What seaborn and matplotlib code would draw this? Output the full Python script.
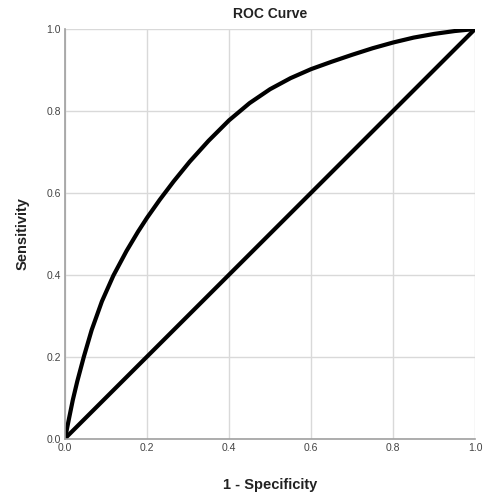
import numpy as np
import pandas as pd
import seaborn as sns
import matplotlib.pyplot as plt

# ROC curve points
fpr = [0.0, 0.01, 0.019, 0.03, 0.046, 0.065, 0.09, 0.118, 0.15, 0.178, 0.2, 0.231, 0.265,
       0.304, 0.35, 0.4, 0.45, 0.5, 0.55, 0.6, 0.65, 0.7, 0.75, 0.8, 0.85, 0.9, 0.95, 1.0]
tpr = [0.0, 0.05, 0.094, 0.14, 0.2, 0.265, 0.335, 0.398, 0.458, 0.505, 0.539, 0.583, 0.628,
       0.676, 0.727, 0.777, 0.819, 0.853, 0.88, 0.902, 0.92, 0.937, 0.953, 0.967, 0.979, 0.988, 0.995, 1.0]
ref_line = [0.0, 1.0]
ticks = [0.0, 0.2, 0.4, 0.6, 0.8, 1.0]
tick_labels = ['0.0', '0.2', '0.4', '0.6', '0.8', '1.0']

sns.set_style('whitegrid', {'grid.color': '#d9d9d9', 'axes.edgecolor': '#a0a0a0'})
plt.rcParams['font.family'] = ['Liberation Sans', 'DejaVu Sans']

fig = plt.figure(figsize=(4.83, 4.95), dpi=100)
ax = fig.add_axes([0.1346, 0.1141, 0.849, 0.8273])

roc = pd.DataFrame({'fpr': fpr, 'tpr': tpr})
sns.lineplot(data=roc, x='fpr', y='tpr', sort=False, color='black', linewidth=3,
             solid_joinstyle='round', ax=ax)
sns.lineplot(x=ref_line, y=ref_line, color='black', linewidth=3, ax=ax)

ax.set_xlim(0, 1)
ax.set_ylim(0, 1)
ax.set_xticks(ticks)
ax.set_xticklabels(tick_labels)
ax.set_yticks(ticks)
ax.set_yticklabels(tick_labels)
ax.tick_params(labelsize=7.5, labelcolor='#444444', length=0, pad=3)
ax.grid(True, color='#d9d9d9', linewidth=1)

for side in ['top', 'right']:
    ax.spines[side].set_visible(False)
for side in ['left', 'bottom']:
    ax.spines[side].set_color('#a0a0a0')
    ax.spines[side].set_linewidth(1.2)

ax.set_title('ROC Curve', fontsize=10, fontweight='bold', color='#222222', pad=8)
ax.set_xlabel('1 - Specificity', fontsize=10.5, fontweight='bold', color='#222222', labelpad=18)
ax.set_ylabel('Sensitivity', fontsize=10.5, fontweight='bold', color='#222222', labelpad=12)

fig.savefig('out.png', dpi=100)
